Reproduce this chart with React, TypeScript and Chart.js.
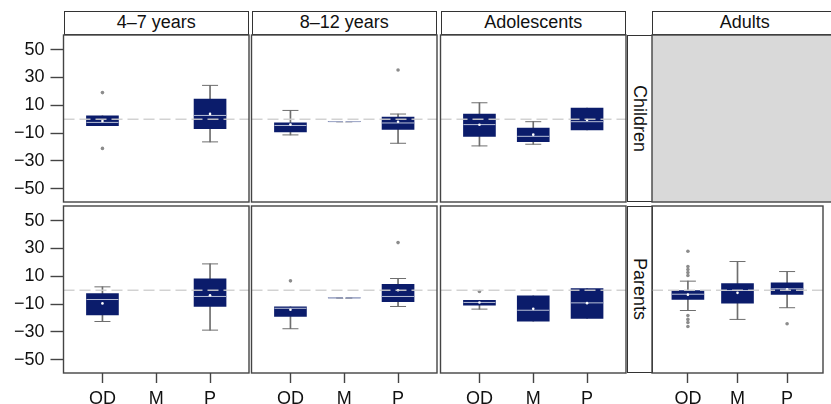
import React, { useEffect, useRef } from 'react';
import { Chart, registerables } from 'chart.js';

Chart.register(...registerables);

// ---------------- data ----------------
const groups = ['OD', 'M', 'P'];
const ageGroups = ['4–7 years', '8–12 years', 'Adolescents', 'Adults'];
const raters = ['Children', 'Parents'];
const yTickValues = [-50, -30, -10, 10, 30, 50];

type Stat = [number, number, number, number, number, number] | null; // [min, q1, median, q3, max, mean]

const childrenAge4to7: Stat[] = [
  [-4.7, -4.7, -2.3, 2.5, 2.5, -1.3],
  null,
  [-16.3, -6.8, 2.7, 14.5, 24.3, 3.8],
];
const childrenAge8to12: Stat[] = [
  [-11.3, -9.2, -4.5, -2.7, 6.3, -3.9],
  [-1.8, -1.8, -1.8, -1.8, -1.8, -1.8],
  [-17.3, -7.3, -2.7, 1.6, 3.7, -1.8],
];
const childrenAdolescents: Stat[] = [
  [-19.2, -12.3, -3.9, 3.7, 11.8, -4.0],
  [-18, -16.1, -12.3, -6.3, -1.8, -11.1],
  [-7.7, -7.7, -1.8, 8, 8, -0.6],
];
const parentsAge4to7: Stat[] = [
  [-22.5, -17.7, -6.7, -2.4, 2.4, -9.5],
  null,
  [-28.7, -11.7, -4.5, 8.2, 18.9, -3.6],
];
const parentsAge8to12: Stat[] = [
  [-27.7, -18.9, -13, -11.9, -11.9, -14.1],
  [-5.5, -5.5, -5.5, -5.5, -5.5, -5.5],
  [-11.7, -8.3, -4.5, 4.3, 8.4, 0],
];
const parentsAdolescents: Stat[] = [
  [-13.6, -10.8, -8.8, -7.2, -7.2, -8.8],
  [-22.2, -22.2, -14.4, -4, -4, -13.4],
  [-20.3, -20.3, -9.1, 1.2, 1.2, -9.3],
];
const parentsAdults: Stat[] = [
  [-14.6, -6.7, -2.9, -0.2, 6.5, -3.2],
  [-21, -9.3, -0.2, 4.8, 20.6, -1.9],
  [-12.6, -3.1, 1, 5.3, 13.4, 0.7],
];

const childrenOutliers4to7 = [[19.1, -21], [], []];
const childrenOutliers8to12 = [[], [], [35.3]];
const childrenOutliersAdolescents = [[], [], []];
const parentsOutliers4to7 = [[], [], []];
const parentsOutliers8to12 = [[6.7], [], [34.2]];
const parentsOutliersAdolescents = [[-0.9], [], []];
const parentsOutliersAdults = [[28, 17, 14.9, 12.7, 10.6, -18.2, -21, -23.2, -26.1], [], [-24.1]];

// ---------------- layout / style ----------------
const CANVAS_W = 840;
const CANVAS_H = 404;
const colLeft = [63.5, 251.5, 440.5, 652];
const panelW = 185.5;
const rowTop = [35, 206];
const panelH = 167;
const headerTop = 10.5;
const rowStripLeft = 627;
const rowStripW = 25.5;
const Y_MIN = -59.5;
const Y_MAX = 60.5;
const X_MIN = 0.276;
const X_MAX = 3.724;
const FONT = "'Liberation Sans', Arial, Helvetica, sans-serif";

const BOX_COLOR = '#0b1c6b';
const MEDIAN_COLOR = '#b9c1d8';
const WHISKER_COLOR = '#6e6e6e';
const OUTLIER_COLOR = '#8c8c8c';
const BORDER_COLOR = '#444444';
const TEXT_COLOR = '#111111';

type PanelSpec = { row: number; col: number; stats: Stat[] | null; outliers: number[][] };

const panels: PanelSpec[] = [
  { row: 0, col: 0, stats: childrenAge4to7, outliers: childrenOutliers4to7 },
  { row: 0, col: 1, stats: childrenAge8to12, outliers: childrenOutliers8to12 },
  { row: 0, col: 2, stats: childrenAdolescents, outliers: childrenOutliersAdolescents },
  { row: 0, col: 3, stats: null, outliers: [] },
  { row: 1, col: 0, stats: parentsAge4to7, outliers: parentsOutliers4to7 },
  { row: 1, col: 1, stats: parentsAge8to12, outliers: parentsOutliers8to12 },
  { row: 1, col: 2, stats: parentsAdolescents, outliers: parentsOutliersAdolescents },
  { row: 1, col: 3, stats: parentsAdults, outliers: parentsOutliersAdults },
];

const panelPlugin = {
  id: 'panelDecor',
  beforeDatasetsDraw(chart: any, _a: any, opts: any) {
    const { ctx, chartArea: a } = chart;
    if (opts.empty) {
      ctx.save();
      ctx.fillStyle = '#d9d9d9';
      ctx.fillRect(a.left, a.top, a.right - a.left, a.bottom - a.top);
      ctx.restore();
    }
  },
  afterDatasetsDraw(chart: any, _a: any, opts: any) {
    const { ctx, chartArea: a, scales } = chart;
    if (!opts.empty) {
      const y0 = scales.y.getPixelForValue(0);
      ctx.save();
      ctx.beginPath();
      ctx.rect(a.left, a.top, a.right - a.left, a.bottom - a.top);
      ctx.clip();
      ctx.strokeStyle = 'rgba(205,205,205,0.9)';
      ctx.lineWidth = 1.4;
      ctx.setLineDash([11, 5]);
      ctx.beginPath();
      ctx.moveTo(a.left, y0);
      ctx.lineTo(a.right, y0);
      ctx.stroke();
      ctx.restore();
    }
  },
  afterDraw(chart: any) {
    const { ctx, chartArea: a } = chart;
    ctx.save();
    ctx.strokeStyle = BORDER_COLOR;
    ctx.lineWidth = 1.4;
    ctx.strokeRect(a.left, a.top, a.right - a.left, a.bottom - a.top);
    ctx.restore();
  },
};

function buildChart(canvas: HTMLCanvasElement, p: PanelSpec) {
  const showY = p.col === 0;
  const showX = p.row === 1;
  const left = colLeft[p.col];
  const top = rowTop[p.row];
  const bottomEdge = top + panelH;
  const xAxisH = CANVAS_H - bottomEdge;

  const whiskers: any[] = [];
  const caps: any[] = [];
  const boxes: any[] = [];
  const medians: any[] = [];
  const means: any[] = [];
  const outs: any[] = [];
  (p.stats || []).forEach((s, i) => {
    if (!s) return;
    const x = i + 1;
    const [mn, q1, med, q3, mx, mean] = s;
    whiskers.push({ x, y: [mn, mx] });
    const degenerate = q1 === q3;
    if (mn < q1 || degenerate) caps.push({ x, y: mn });
    if (mx > q3 || degenerate) caps.push({ x, y: mx });
    boxes.push({ x, y: [q1, q3] });
    medians.push({ x, y: med });
    means.push({ x, y: mean });
  });
  p.outliers.forEach((arr, i) => arr.forEach((v) => outs.push({ x: i + 1, y: v })));

  const pointDs = (data: any[], extra: any) => ({
    type: 'line',
    data,
    showLine: false,
    borderWidth: 0,
    pointHoverRadius: 0,
    ...extra,
  });

  return new Chart(canvas, {
    type: 'bar',
    data: {
      datasets: [
        { type: 'bar', data: whiskers, grouped: false, barThickness: 1, backgroundColor: WHISKER_COLOR, borderWidth: 0, order: 6 } as any,
        pointDs(caps, { pointStyle: 'line', pointRadius: 8, pointBorderWidth: 1, pointBorderColor: WHISKER_COLOR, order: 5 }),
        { type: 'bar', data: boxes, grouped: false, barThickness: 32, backgroundColor: BOX_COLOR, borderWidth: 0, order: 4 } as any,
        pointDs(medians, { pointStyle: 'line', pointRadius: 16, pointBorderWidth: 1, pointBorderColor: MEDIAN_COLOR, order: 3 }),
        pointDs(means, { pointStyle: 'circle', pointRadius: 1.3, pointBorderWidth: 0, pointBackgroundColor: '#ffffff', order: 2 }),
        pointDs(outs, { pointStyle: 'circle', pointRadius: 1.8, pointBorderWidth: 0, pointBackgroundColor: OUTLIER_COLOR, order: 1 }),
      ],
    },
    options: {
      animation: false,
      responsive: false,
      devicePixelRatio: 1,
      events: [],
      layout: {
        padding: {
          left: showY ? 0 : left,
          right: CANVAS_W - (left + panelW),
          top,
          bottom: showX ? 0 : CANVAS_H - bottomEdge,
        },
      },
      plugins: {
        legend: { display: false },
        tooltip: { enabled: false },
        panelDecor: { empty: !p.stats },
      } as any,
      scales: {
        x: {
          type: 'linear',
          display: showX,
          min: X_MIN,
          max: X_MAX,
          offset: false,
          grid: { offset: false, drawOnChartArea: false, drawTicks: true, tickLength: 10, tickColor: BORDER_COLOR, tickWidth: 1.4 },
          border: { display: false },
          afterBuildTicks: (s: any) => {
            s.ticks = groups.map((_, i) => ({ value: i + 1 }));
          },
          afterFit: (s: any) => {
            s.height = showX ? xAxisH : 0;
          },
          ticks: {
            padding: 5,
            maxRotation: 0,
            autoSkip: false,
            color: TEXT_COLOR,
            font: { family: FONT, size: 18 },
            callback: (v: any) => groups[Math.round(v) - 1] ?? '',
          },
        },
        y: {
          type: 'linear',
          display: showY,
          min: Y_MIN,
          max: Y_MAX,
          grid: { offset: false, drawOnChartArea: false, drawTicks: true, tickLength: 13, tickColor: BORDER_COLOR, tickWidth: 1.4 },
          border: { display: false },
          afterBuildTicks: (s: any) => {
            s.ticks = yTickValues.map((v) => ({ value: v }));
          },
          afterFit: (s: any) => {
            s.width = showY ? colLeft[0] : 0;
          },
          ticks: {
            padding: 6,
            autoSkip: false,
            color: TEXT_COLOR,
            font: { family: FONT, size: 18 },
            callback: (v: any) => (v < 0 ? '\u2212' + Math.abs(v) : String(v)),
          },
        },
      },
    } as any,
    plugins: [panelPlugin],
  });
}

export default function App() {
  const refs = useRef<(HTMLCanvasElement | null)[]>([]);

  useEffect(() => {
    const charts = panels.map((p, i) => buildChart(refs.current[i] as HTMLCanvasElement, p));
    return () => charts.forEach((c) => c.destroy());
  }, []);

  const stripBase: React.CSSProperties = {
    position: 'absolute',
    boxSizing: 'border-box',
    border: `1.4px solid #333`,
    background: '#ffffff',
    display: 'flex',
    alignItems: 'center',
    justifyContent: 'center',
    fontFamily: FONT,
    fontSize: 18,
    color: TEXT_COLOR,
    whiteSpace: 'nowrap',
  };

  return (
    <div
      style={{
        position: 'fixed',
        left: 0,
        top: 0,
        width: 831,
        height: 404,
        overflow: 'hidden',
        background: '#ffffff',
      }}
    >
      {ageGroups.map((g, c) => (
        <div
          key={g}
          style={{ ...stripBase, left: colLeft[c], top: headerTop, width: panelW, height: rowTop[0] - headerTop }}
        >
          {g}
        </div>
      ))}
      {raters.map((r, i) => (
        <div
          key={r}
          style={{ ...stripBase, left: rowStripLeft, top: rowTop[i], width: rowStripW, height: panelH }}
        >
          <span style={{ writingMode: 'vertical-rl' as any }}>{r}</span>
        </div>
      ))}
      {panels.map((p, i) => (
        <canvas
          key={i}
          ref={(el) => {
            refs.current[i] = el;
          }}
          width={CANVAS_W}
          height={CANVAS_H}
          style={{ position: 'absolute', left: 0, top: 0, width: CANVAS_W, height: CANVAS_H, display: 'block' }}
        />
      ))}
    </div>
  );
}
